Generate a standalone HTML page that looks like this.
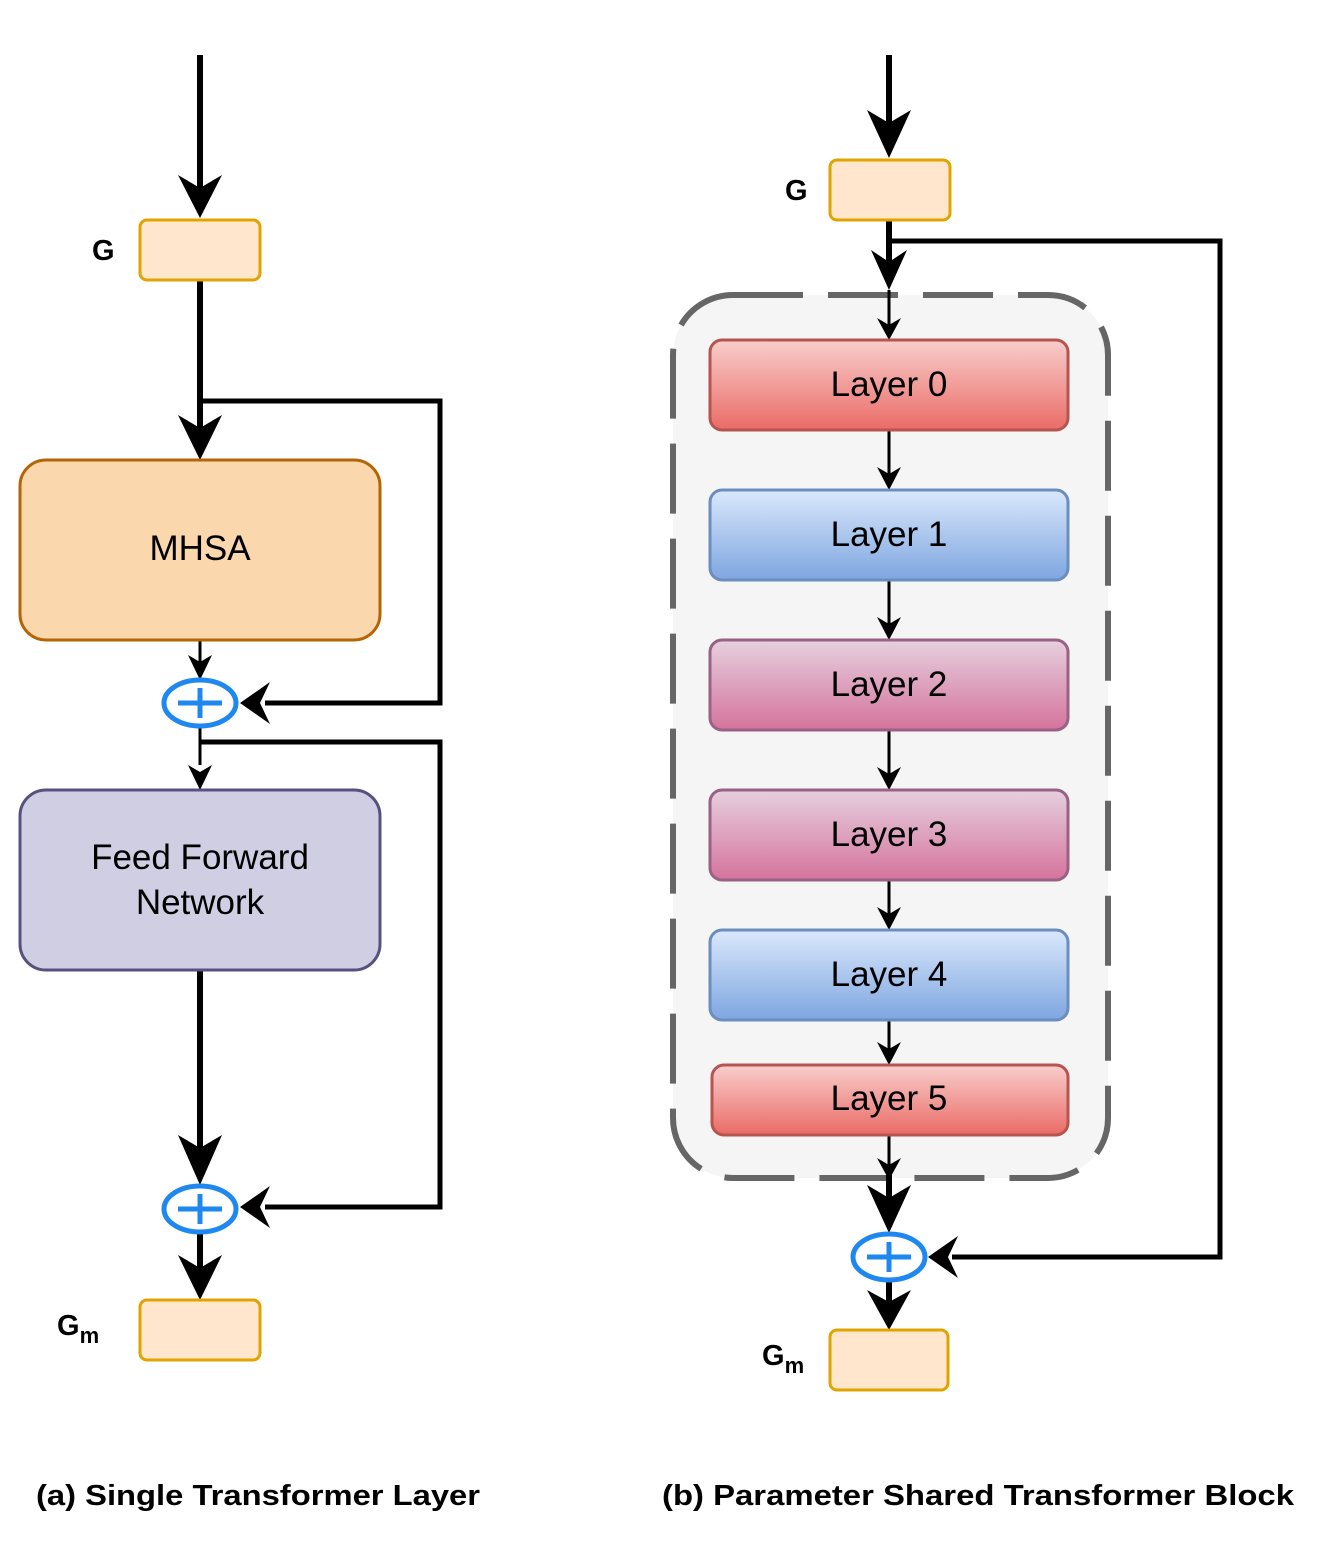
<!DOCTYPE html>
<html><head><meta charset="utf-8"><style>body{margin:0;background:#fff}svg{display:block}</style></head><body>
<svg width="1323" height="1553" viewBox="0 0 1323 1553" xmlns="http://www.w3.org/2000/svg" font-family="Liberation Sans, Arial, sans-serif">
<defs>
<linearGradient id="red" x1="0" y1="0" x2="0" y2="1"><stop offset="0" stop-color="#f8cecc"/><stop offset="1" stop-color="#ea6b66"/></linearGradient>
<linearGradient id="blue" x1="0" y1="0" x2="0" y2="1"><stop offset="0" stop-color="#dae8fc"/><stop offset="1" stop-color="#7ea6e0"/></linearGradient>
<linearGradient id="pink" x1="0" y1="0" x2="0" y2="1"><stop offset="0" stop-color="#e6d0de"/><stop offset="1" stop-color="#d5739d"/></linearGradient>
</defs>
<g fill="none" stroke="#000">
<line x1="200" y1="55" x2="200" y2="190" stroke-width="6"/>
<line x1="200" y1="280" x2="200" y2="430" stroke-width="6"/>
<polyline points="200,401 440,401 440,703 265,703" stroke-width="5"/>
<line x1="200" y1="640" x2="200" y2="665" stroke-width="3"/>
<line x1="200" y1="726" x2="200" y2="765" stroke-width="3"/>
<polyline points="200,742 440,742 440,1207 265,1207" stroke-width="5"/>
<line x1="200" y1="970" x2="200" y2="1150" stroke-width="6"/>
<line x1="200" y1="1232" x2="200" y2="1270" stroke-width="6"/>
<line x1="889" y1="55" x2="889" y2="125" stroke-width="6"/>
<line x1="889" y1="220" x2="889" y2="262" stroke-width="6"/>
<polyline points="889,241 1220,241 1220,1257 952,1257" stroke-width="5"/>
</g>
<g fill="#000">
<polygon points="178,175 200,218 222,175 200,188"/>
<polygon points="178,415 200,460 222,415 200,428"/>
<polygon points="240,703 270,682 260,703 270,724"/>
<polygon points="188,655 200,680 212,655 200,662"/>
<polygon points="188,765 200,790 212,765 200,772"/>
<polygon points="178,1135 200,1185 222,1135 200,1148"/>
<polygon points="240,1207 270,1186 260,1207 270,1228"/>
<polygon points="178,1255 200,1300 222,1255 200,1268"/>
<polygon points="867,110 889,158 911,110 889,123"/>
<polygon points="871,250 889,290 907,250 889,262"/>
<polygon points="928,1257 958,1236 948,1257 958,1278"/>
</g>
<rect x="673" y="295" width="435" height="883" rx="60" fill="#f5f5f5" stroke="#666" stroke-width="6" stroke-dasharray="70,25"/>
<g stroke="#000" stroke-width="3">
<line x1="889" y1="290" x2="889" y2="325"/>
<line x1="889" y1="430" x2="889" y2="475"/>
<line x1="889" y1="580" x2="889" y2="625"/>
<line x1="889" y1="730" x2="889" y2="775"/>
<line x1="889" y1="880" x2="889" y2="915"/>
<line x1="889" y1="1020" x2="889" y2="1050"/>
<line x1="889" y1="1135" x2="889" y2="1170"/>
</g>
<line x1="889" y1="1175" x2="889" y2="1210" stroke="#000" stroke-width="6"/>
<line x1="889" y1="1280" x2="889" y2="1310" stroke="#000" stroke-width="6"/>
<g fill="#000">
<polygon points="877,318 889,340 901,318 889,325"/>
<polygon points="877,467 889,490 901,467 889,474"/>
<polygon points="877,617 889,640 901,617 889,624"/>
<polygon points="877,767 889,790 901,767 889,774"/>
<polygon points="877,907 889,930 901,907 889,914"/>
<polygon points="877,1042 889,1065 901,1042 889,1049"/>
<polygon points="877,1158 889,1180 901,1158 889,1165"/>
<polygon points="867,1185 889,1233 911,1185 889,1198"/>
<polygon points="867,1290 889,1330 911,1290 889,1302"/>
</g>
<g stroke-width="3">
<rect x="140" y="220" width="120" height="60" rx="7" fill="#ffe6cc" stroke="#e0a400"/>
<rect x="140" y="1300" width="120" height="60" rx="7" fill="#ffe6cc" stroke="#e0a400"/>
<rect x="830" y="160" width="120" height="60" rx="7" fill="#ffe6cc" stroke="#e0a400"/>
<rect x="830" y="1330" width="118" height="60" rx="7" fill="#ffe6cc" stroke="#e0a400"/>
<rect x="20" y="460" width="360" height="180" rx="26" fill="#fad7ac" stroke="#b46504"/>
<rect x="20" y="790" width="360" height="180" rx="26" fill="#d0cee2" stroke="#56517e"/>
<rect x="710" y="340" width="358" height="90" rx="12" fill="url(#red)" stroke="#b85450"/>
<rect x="710" y="490" width="358" height="90" rx="12" fill="url(#blue)" stroke="#6c8ebf"/>
<rect x="710" y="640" width="358" height="90" rx="12" fill="url(#pink)" stroke="#996185"/>
<rect x="710" y="790" width="358" height="90" rx="12" fill="url(#pink)" stroke="#996185"/>
<rect x="710" y="930" width="358" height="90" rx="12" fill="url(#blue)" stroke="#6c8ebf"/>
<rect x="712" y="1065" width="356" height="70" rx="12" fill="url(#red)" stroke="#b85450"/>
</g>
<g stroke="#1e88f0" stroke-width="5" fill="#fff">
<ellipse cx="200" cy="703" rx="36" ry="23"/>
<ellipse cx="200" cy="1209" rx="36" ry="23"/>
<ellipse cx="889" cy="1257" rx="36" ry="23"/>
</g>
<g stroke="#1e88f0" stroke-width="5">
<path d="M178 703H222M200 688V718"/>
<path d="M178 1209H222M200 1194V1224"/>
<path d="M867 1257H911M889 1242V1272"/>
</g>
<g fill="#000" text-anchor="middle" font-size="35">
<text x="200" y="560">MHSA</text>
<text x="200" y="869">Feed Forward</text>
<text x="200" y="914">Network</text>
<text x="889" y="396">Layer 0</text>
<text x="889" y="546">Layer 1</text>
<text x="889" y="696">Layer 2</text>
<text x="889" y="846">Layer 3</text>
<text x="889" y="986">Layer 4</text>
<text x="889" y="1110">Layer 5</text>
</g>
<g fill="#000" font-weight="bold" font-size="29">
<text x="92" y="260">G</text>
<text x="785" y="200">G</text>
<text x="57" y="1335">G<tspan font-size="22" dy="8">m</tspan></text>
<text x="762" y="1365">G<tspan font-size="22" dy="8">m</tspan></text>
<text x="36" y="1505" textLength="444" lengthAdjust="spacingAndGlyphs">(a) Single Transformer Layer</text>
<text x="662" y="1505" textLength="632" lengthAdjust="spacingAndGlyphs">(b) Parameter Shared Transformer Block</text>
</g>
</svg>
</body></html>
